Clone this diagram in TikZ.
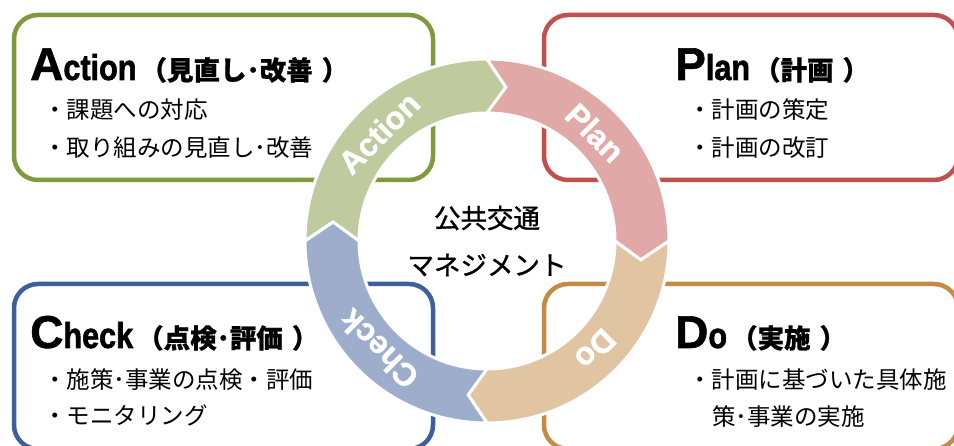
\documentclass[tikz,border=0pt]{standalone}
\usepackage{fontspec}
\setmainfont{Liberation Sans}
\newfontfamily\jp{Noto Sans CJK JP}
\newfontfamily\jpfb[FakeBold=1.2]{Noto Sans CJK JP}
\newfontfamily\jpbb[FakeBold=0.8]{Noto Sans CJK JP}
\newfontfamily\latc[FakeBold=1.2]{Liberation Sans}
\newfontfamily\lats[FakeStretch=0.85, FakeBold=1.6]{Liberation Sans}
\newfontfamily\lbf[FakeBold=1]{Liberation Sans}
\usetikzlibrary{calc}
\definecolor{actline}{HTML}{7F9A3D}
\definecolor{plnline}{HTML}{C0504D}
\definecolor{doline}{HTML}{C48B46}
\definecolor{chkline}{HTML}{3F5E9C}
\definecolor{actfill}{HTML}{BFCA9E}
\definecolor{plnfill}{HTML}{E0A9A8}
\definecolor{dofill}{HTML}{E1C5A2}
\definecolor{chkfill}{HTML}{9DADCB}
\newcommand\ringseg[2]{%
  \filldraw[fill=#2, draw=white, line width=3pt, line join=miter]
    (#1:182) arc[start angle=#1, end angle={#1-90}, radius=182]
    -- ({#1-97}:155) -- ({#1-90}:128)
    arc[start angle={#1-90}, end angle=#1, radius=128]
    -- ({#1-7}:155) -- cycle;}
\tikzset{
  boxshape/.style={line width=4.5pt, rounded corners=24pt, inner sep=0pt, fill=white},
  ttl/.style={anchor=base west, inner sep=0pt},
  item/.style={anchor=west, inner sep=0pt, font=\jp\fontsize{23.5}{23.5}\selectfont},
  lbl/.style={inner sep=0pt, text=white, font=\lbf\bfseries\fontsize{32}{32}\selectfont},
  ctr/.style={inner sep=0pt, font=\jpfb\fontsize{26.5}{26.5}\selectfont}
}
\newcommand\bigL{\latc\bfseries\fontsize{46}{46}\selectfont}
\newcommand\smallL{\lats\bfseries\fontsize{36}{36}\selectfont}
\newcommand\jpT{\jpbb\bfseries\fontsize{26.5}{26.5}\selectfont}
\newcommand\jpttl[1]{\jpT\hspace{4pt}（#1\hspace{9pt}）}
\begin{document}
\begin{tikzpicture}[x=1pt,y=1pt]
\useasboundingbox (0,0) rectangle (954,446);
% boxes
\node[boxshape, draw=actline, minimum width=419pt, minimum height=165pt] (actbox) at (223.5,348.5) {};
\node[boxshape, draw=plnline, minimum width=414pt, minimum height=165pt] (plnbox) at (751,348.5) {};
\node[boxshape, draw=chkline, minimum width=419pt, minimum height=165pt] (chkbox) at (223.5,79.5) {};
\node[boxshape, draw=doline, minimum width=414pt, minimum height=165pt] (dobox) at (751,79.5) {};
% ring
\begin{scope}[shift={(487,205)}]
\ringseg{180}{actfill}
\ringseg{90}{plnfill}
\ringseg{0}{dofill}
\ringseg{-90}{chkfill}
\node[lbl, rotate=45] (lact) at (135:153) {Action};
\node[lbl, rotate=-45] (lpln) at (45:153) {Plan};
\node[lbl, rotate=-135] (ldo) at (-45:153) {Do};
\node[lbl, rotate=135] (lchk) at (-135:153) {Check};
\end{scope}
% centre
\node[ctr] (ctr1) at (487,228) {公共交通};
\node[ctr] (ctr2) at (487,181) {マネジメント};
% titles
\node[ttl] (acttitle) at (30,366) {\bigL A\smallL ction\jpttl{見直し･改善}};
\node[ttl] (plntitle) at (675,366) {\bigL P\smallL lan\jpttl{計画}};
\node[ttl] (chktitle) at (30,98) {\bigL C\smallL heck\jpttl{点検･評価}};
\node[ttl] (dotitle) at (675,98) {\bigL D\smallL o\jpttl{実施}};
% items
\node[item] (act1) at (43,336) {・課題への対応};
\node[item] (act2) at (43,298) {・取り組みの見直し･改善};
\node[item] (pln1) at (688,336) {・計画の策定};
\node[item] (pln2) at (688,298) {・計画の改訂};
\node[item] (chk1) at (43,66) {・施策･事業の点検・評価};
\node[item] (chk2) at (43,31) {・モニタリング};
\node[item] (do1) at (688,66) {・計画に基づいた具体施};
\node[item] (do2) at (712,29) {策･事業の実施};
\end{tikzpicture}
\end{document}
